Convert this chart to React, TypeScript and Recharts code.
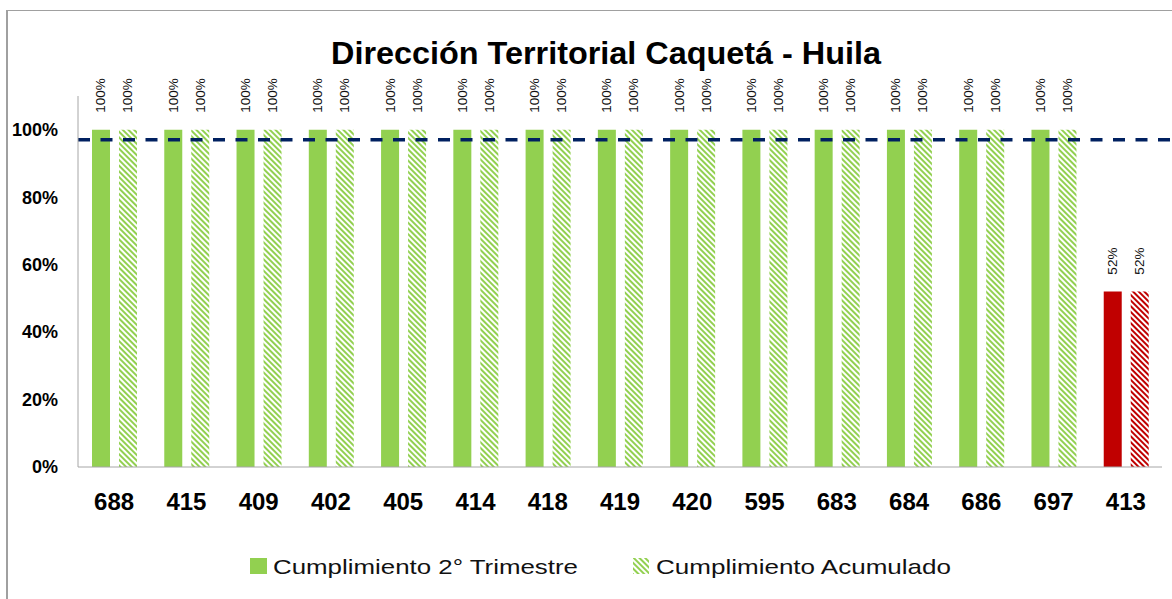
import React from 'react';
import { BarChart, Bar, XAxis, YAxis, ReferenceLine, LabelList, Cell, Legend } from 'recharts';

const categories = ['688', '415', '409', '402', '405', '414', '418', '419', '420', '595', '683', '684', '686', '697', '413'];
const trimestre = [1, 1, 1, 1, 1, 1, 1, 1, 1, 1, 1, 1, 1, 1, 0.52];
const acumulado = [1, 1, 1, 1, 1, 1, 1, 1, 1, 1, 1, 1, 1, 1, 0.52];
const yTicks = [0, 0.2, 0.4, 0.6, 0.8, 1];
const meta = 0.97;
const seriesNames = ['Cumplimiento 2° Trimestre', 'Cumplimiento Acumulado'];
const titleText = 'Dirección Territorial Caquetá - Huila';

const data = categories.map((c, i) => ({ cat: c, trim: trimestre[i], acum: acumulado[i] }));

const GREEN = '#92D050';
const RED = '#C00000';
const NAVY = '#002060';
const AXIS = '#A6A6A6';

const pct = (v: number) => `${Math.round(v * 100)}%`;

const RotLabel = (props: any) => {
  const { x, y, width, value } = props;
  const cx = x + width / 2;
  const yy = y - 17;
  return (
    <text
      x={cx}
      y={yy}
      transform={`rotate(-90 ${cx} ${yy})`}
      textAnchor="start"
      dominantBaseline="central"
      fontFamily="Liberation Sans"
      fontSize={13.5}
      fill="#111"
    >
      {pct(value)}
    </text>
  );
};

const LegendContent = () => (
  <svg width={1172} height={40} style={{ display: 'block' }}>
    <rect x={250} y={13} width={17} height={16} fill={GREEN} />
    <text x={273} y={29} fontFamily="Liberation Sans" fontSize={21} fill="#111" textLength={305} lengthAdjust="spacingAndGlyphs">
      {seriesNames[0]}
    </text>
    <rect x={633} y={13} width={16} height={16} fill="url(#hatchGreen)" />
    <text x={656} y={29} fontFamily="Liberation Sans" fontSize={21} fill="#111" textLength={295} lengthAdjust="spacingAndGlyphs">
      {seriesNames[1]}
    </text>
  </svg>
);

export default function App() {
  return (
    <div style={{ position: 'fixed', left: 0, top: 0, width: 1172, height: 599, background: '#fff', overflow: 'hidden' }}>
      <div
        style={{
          position: 'absolute',
          left: 6,
          top: 10,
          width: 1200,
          height: 700,
          borderLeft: '2px solid #A0A0A0',
          borderTop: '1px solid #A0A0A0',
        }}
      />
      <svg width={1172} height={90} style={{ position: 'absolute', left: 0, top: 0 }}>
        <defs>
          <pattern id="hatchGreen" patternUnits="userSpaceOnUse" width={4} height={4} patternTransform="rotate(45)">
            <rect width={4} height={4} fill="#fff" />
            <line x1={0} y1={1} x2={4} y2={1} stroke={GREEN} strokeWidth={2} />
          </pattern>
          <pattern id="hatchRed" patternUnits="userSpaceOnUse" width={4} height={4} patternTransform="rotate(45)">
            <rect width={4} height={4} fill="#fff" />
            <line x1={0} y1={1} x2={4} y2={1} stroke={RED} strokeWidth={2} />
          </pattern>
        </defs>
        <text
          x={606}
          y={64}
          textAnchor="middle"
          fontFamily="Liberation Sans"
          fontWeight="bold"
          fontSize={31}
          fill="#000"
          textLength={550}
          lengthAdjust="spacingAndGlyphs"
        >
          {titleText}
        </text>
      </svg>
      <div style={{ position: 'absolute', left: 0, top: 0 }}>
        <BarChart
          width={1172}
          height={599}
          data={data}
          margin={{ top: 96, right: 10, bottom: 52, left: 8 }}
          barSize={18}
          barGap={9}
        >
          <XAxis
            dataKey="cat"
            axisLine={{ stroke: AXIS, strokeWidth: 1 }}
            tickLine={false}
            tickSize={0}
            tickMargin={26}
            height={40}
            interval={0}
            tick={{ fontFamily: 'Liberation Sans', fontWeight: 'bold', fontSize: 24, fill: '#000' }}
          />
          <YAxis
            domain={[0, 1.1]}
            ticks={yTicks}
            tickFormatter={pct}
            axisLine={{ stroke: AXIS, strokeWidth: 1 }}
            tickLine={false}
            tickSize={0}
            tickMargin={20}
            width={70}
            allowDataOverflow
            tick={{ fontFamily: 'Liberation Sans', fontWeight: 'bold', fontSize: 18, fill: '#000' }}
          />
          <Legend verticalAlign="bottom" content={<LegendContent />} wrapperStyle={{ position: 'absolute', left: 0, top: 545, width: 1172, height: 40 }} />
          <Bar dataKey="trim" name={seriesNames[0]} fill={GREEN} isAnimationActive={false}>
            {data.map((d, i) => (
              <Cell key={i} fill={d.trim < meta ? RED : GREEN} />
            ))}
            <LabelList dataKey="trim" content={<RotLabel />} />
          </Bar>
          <Bar dataKey="acum" name={seriesNames[1]} fill="url(#hatchGreen)" isAnimationActive={false}>
            {data.map((d, i) => (
              <Cell key={i} fill={d.acum < meta ? 'url(#hatchRed)' : 'url(#hatchGreen)'} />
            ))}
            <LabelList dataKey="acum" content={<RotLabel />} />
          </Bar>
          <ReferenceLine
            y={meta}
            ifOverflow="visible"
            shape={(p: any) => (
              <line x1={p.x1} y1={p.y1} x2={1172} y2={p.y2} stroke={NAVY} strokeWidth={3.5} strokeDasharray="12 10.5" />
            )}
          />
        </BarChart>
      </div>
    </div>
  );
}
